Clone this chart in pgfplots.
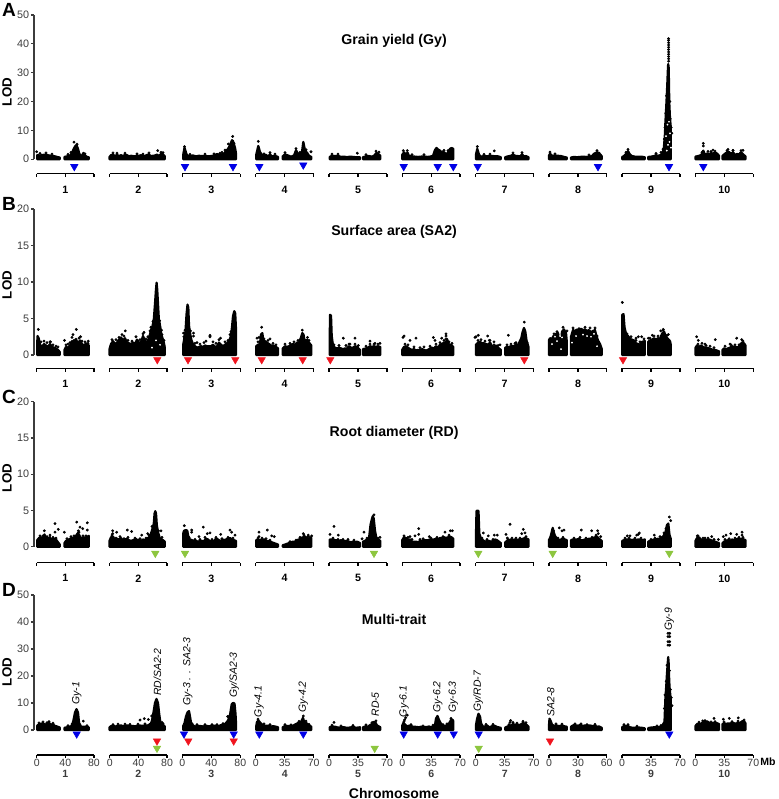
\documentclass[border=0pt]{standalone}
\usepackage{pgfplots}
\usepackage{fontspec}
\pgfplotsset{compat=1.18}
\setmainfont{Liberation Sans}
\definecolor{qblue}{RGB}{0,0,230}
\definecolor{qred}{RGB}{240,20,30}
\definecolor{qgreen}{RGB}{141,198,63}
\definecolor{axgray}{RGB}{60,60,60}
\newcommand{\fs}[1]{\fontsize{#1}{#1}\selectfont}
% x values are positions along the strip of ten equal-width chromosomes
\newcommand{\chunk}[1]{\addplot[mass] coordinates {#1} \closedcycle;}
\newcommand{\brackets}[1]{\addplot[black,line width=0.8pt,forget plot,unbounded coords=jump] coordinates {
 (36.7,#1)(94,#1)(94,nan)(109.7,#1)(167,#1)(167,nan)(182.3,#1)(240.3,#1)(240.3,nan)
 (255.7,#1)(313.7,#1)(313.7,nan)(329,#1)(387,#1)(387,nan)(402.3,#1)(460,#1)(460,nan)
 (475.7,#1)(533.7,#1)(533.7,nan)(549,#1)(606.7,#1)(606.7,nan)(622,#1)(680,#1)(680,nan)
 (695.3,#1)(753.3,#1)};}
\pgfplotsset{
 mass/.style={fill=black,draw=black,line width=1.7pt,line join=round,forget plot},
 dots/.style={only marks,mark=*,mark size=0.85pt,black,forget plot},
 specks/.style={only marks,mark=*,mark size=0.45pt,white,forget plot},
 tri/.style={only marks,mark=triangle*,mark size=3.2pt,#1,
   mark options={rotate=180,fill=#1,draw=#1},forget plot},
 panel/.style={
  scale only axis,width=544.5pt,xmin=34,xmax=760,ymin=0,clip=false,
  axis x line*=bottom,axis y line*=left,
  y axis line style={line width=1.1pt,color=axgray},
  x axis line style={draw=none},
  tick align=outside,major tick length=2.4pt,
  ytick style={line width=0.8pt,color=axgray},
  xtick style={line width=0.8pt,color=black},
  /pgf/number format/assume math mode=true,
  yticklabel style={font=\fs{8.1},text=axgray,inner sep=1pt},
  every axis title shift=0pt,
  title style={font=\bfseries\fs{10.6}},
  ylabel style={font=\bfseries\fs{10},anchor=center},
  xtick={36.7,65.3,94,109.7,138.4,167,182.3,211.3,240.3,255.7,284.7,313.7,329,358,387,402.3,431.2,460,475.7,504.7,533.7,549,578,606.7,622,651,680,695.3,724.3,753.3},
 },
 plainx/.style={
  xticklabels={,1,,,2,,,3,,,4,,,5,,,6,,,7,,,8,,,9,,,10,},
  xticklabel style={font=\bfseries\fs{8},yshift=-3pt},
 },
}
\begin{document}
\begin{tikzpicture}[x=0.75pt,y=0.75pt]
\path[use as bounding box] (0,0) rectangle (778,799);

% ---- A
\begin{axis}[panel,plainx,at={(25.5pt,479.8pt)},anchor=south west,height=108.2pt,ymax=50,ytick={0,10,...,50},
 axis x line shift=11pt,
 title={Grain yield (Gy)},title style={at={(axis description cs:0.496,0.82)},anchor=center},
 ylabel={LOD},ylabel style={at={(axis description cs:-0.0372,0.466)}}]
\chunk{(37.2,1.4)(40,1.3)(43,1.5)(46,1.6)(49,1.3)(52,1.2)(55,1)(58,.7)(59.8,.6)}
\chunk{(64.5,.8)(67,1)(70,1.3)(72,2.2)(73.5,3.4)(75,4.4)(76.5,4.9)(78,3.6)(79,2.2)(80.5,1.1)(82,1.3)(83.5,2.2)(85,1.3)(87,.8)(88.8,.7)}
\chunk{(109.5,.8)(111,1.4)(113,1.6)(115,1.1)(117,1.5)(119,1.1)(121,1.4)(123,1.1)(125,1.5)(127,1.4)(129,1)(131,1.2)(133,1.1)(135,1)(137,1.3)(139,1.2)(141,1.4)(143,1.2)(145,1.1)(147,1.5)(149,1.6)(151,1.1)(153,1.2)(155,1.3)(157,1.6)(159,1.1)(161,1.8)(163,1.7)(164.8,1)}
\chunk{(183.2,1.5)(184.5,4)(186,2.3)(187,1.3)(190,1.1)(193,1.3)(196,1)(199,1.2)(202,1.1)(205,1.2)(208,1)(211,1.1)(214,1.3)(217,1.8)(220,1.5)(224,2)(226,2.8)(228,3.6)(230,4.8)(232,6.6)(233,6.3)(235,4)(236,2)}
\chunk{(256.2,1.5)(258.3,4.6)(260,2.5)(262,1.5)(264,1.3)(266,1.5)(268,1)(270,1.7)(272,1)(275,1.2)(278,.8)}
\chunk{(282.7,1)(285,1.7)(288,1.3)(291,.9)(294,1.3)(296,3.1)(298,2)(300,1.8)(302,2.5)(303.3,6)(305,3)(307,2.3)(309,1.2)(311.3,.8)}
\chunk{(329.7,.8)(332,1.2)(335,1.1)(338,1.2)(341,.8)(344,.9)(347,.7)(350,.9)(353,.8)(356,.7)(360,.7)}
\chunk{(363,.7)(366,1)(369,1.1)(372,.9)(374,1.2)(376.5,2.2)(378,1.9)(380.3,1.2)}
\chunk{(402.2,1.5)(404,2.4)(406,1.6)(407.5,2.3)(409,1.1)(412,1)(415,.9)(418,.8)(421,.9)(424,1)(427,.8)(430,.9)(433,1.2)(435,3.2)(436.5,3.9)(438,3.4)(440,3)(442,2)(444,2.5)(446,1.6)(448,2.4)(450,3.6)(451.5,3.9)(453.3,3.6)}
\chunk{(475.9,1.5)(477.3,3.6)(479,1.6)(481,.9)(484,1.1)(487,1)(490,1.2)(493,1.1)(496,1)(498,1)(500.8,.7)}
\chunk{(505.2,.7)(508,1)(511,1.2)(513,1.6)(515,1.2)(518,1.1)(520,1)(522,1.7)(524,1)(526,1.1)(528.5,.7)}
\chunk{(548.9,1.2)(550,1.9)(552,1.2)(555,1.3)(558,1.2)(561,1.1)(564,.8)(566.8,.6)}
\chunk{(571,.6)(574,.8)(577,.7)(580,.8)(583,.9)(586,.8)(589,.9)(592,1.1)(594,1.9)(597,2.4)(599,2.2)(601.8,1)}
\chunk{(622.2,.8)(624,1.1)(626,1.8)(628,2.8)(630,1.6)(632,1.1)(635,.9)(638,.9)(641,.9)(644.8,.7)}
\chunk{(648.2,.8)(651,.9)(654,1.1)(656,1.4)(658,1.2)(661,1.5)(663,2.5)(663.9,4)(665,9)(665.3,12)(666.5,20)(667.3,26)(668,32)(668.2,33)(668.6,32)(669,26)(669.2,20)(670,14)(670.8,11)(670.8,2)}
\chunk{(695.5,.9)(698,1.1)(700,1.3)(702,1.8)(703.3,3)(705,1.4)(707,2)(709,1.8)(711,2.1)(713,2)(715,2.2)(717,2)(719,1.2)}
\chunk{(722.5,1.2)(725,1.9)(727,2.4)(729,2.5)(731,1.9)(733,2.4)(735,1.5)(737,1.8)(739,1.7)(741,2.4)(743,1.7)(745.5,1)}
\addplot[dots] coordinates {(36.7,2.6)(74,5.9)(157.7,3)(232.7,7.9)(225,3.2)(228.3,5.3)(258.3,6.2)(311,2.6)(357.3,2.1)(403.3,3)(407.3,3)(477.3,4.4)(494.3,2.9)(703.3,5.5)(703.3,4.6)(713,3.2)(708,2.7)(743,3.1)(728,3.4)(733,3.1)
 (668.6,34)(668.6,34.8)(668.6,35.6)(668.6,36.4)(668.6,37.2)(668.6,38)(668.6,38.8)(668.6,39.6)(668.6,40.4)(668.6,41.2)(668.6,41.8)
 (40,2)(46,2.2)(52,1.8)(68,1.7)(71,2.4)(77,5.2)(85,1.9)(113,2.2)(117,2.1)(125,2.1)(137,1.9)(149,2.2)(161,2.4)(163,2.3)(143,1.8)
 (184.5,4.4)(190,1.7)(205,1.8)(214,1.9)(220,2.1)(222,2.4)(231,5.6)(234,5.5)(264,1.9)(270,2.3)(275,1.8)(285,2.3)(296,3.7)(300,2.4)(306,3.3)
 (332,1.8)(338,1.8)(366,1.6)(376,2.8)(379,2.5)(412,1.6)(424,1.6)(442,2.6)(444,3.1)(448,3)(484,1.7)(490,1.8)(513,2.2)(522,2.3)
 (550,2.5)(555,1.9)(597,3)(589,1.5)(628,3.4)(626,2.4)(656,2)(663,3.5)(661,2.4)(702,2.4)(711,2.7)(715,2.8)(727,3)(733,3)(741,3)
 (664.3,7)(665,11)(671.8,9)(671.2,11)(665.7,16)(670.3,14)(666.5,22)(669.8,20)};
\addplot[specks] coordinates {(666,8)(668,5)(670,9)(667.5,12)(669,13)(669.5,6)(666.8,3)(671,4)};
\addplot[tri=qblue] coordinates {(74.3,-2.56)(185,-2.56)(233,-2.56)(259.3,-2.56)(437.7,-2.56)(403.7,-2.56)(453.3,-2.56)(477.7,-2.56)(598,-2.56)(669,-2.56)(703.3,-2.56)(303.3,-2)};
\brackets{-5.09}
\end{axis}

% ---- B
\begin{axis}[panel,plainx,at={(25.5pt,333pt)},anchor=south west,height=109.5pt,ymax=20,ytick={0,5,...,20},
 axis x line shift=10pt,
 title={Surface area (SA2)},title style={at={(axis description cs:0.496,0.842)},anchor=center},
 ylabel={LOD},ylabel style={at={(axis description cs:-0.0372,0.479)}}]
\chunk{(37.2,1.2)(37.5,2.6)(38.7,2.3)(40,1.4)(42,1.1)(44,1.5)(46,1.3)(48,1.1)(50,1.5)(52,1.1)(54,1)(56,.9)(58,.7)(59.8,.4)}
\chunk{(64.5,.7)(66,1.1)(68,1)(70,1.3)(72,1.9)(74,1.6)(76,2.2)(78,1.4)(80,2)(82,1.5)(84,1.3)(86,1.6)(88.8,1.3)}
\chunk{(109.5,.8)(111,1.5)(113,1.9)(115,1.5)(117,1.7)(119,2.1)(121,2.4)(123,2)(125,2.3)(127,1.7)(129,1.6)(131,1.5)(133,1.7)(135,1.5)(137,2.1)(139,1.7)(141,1.7)(143,2.6)(145,1.9)(147,1.8)(149,2.3)(151,3.4)(152.5,3.9)(153.9,5)(155,7)(156,9)(156.6,9.9)(157.2,9)(158,7)(158.8,5)(160.3,3.8)(161.5,2.7)(162.5,2.3)(164,1.6)(164.8,1)}
\chunk{(183.2,1.4)(184.5,2.4)(185.5,3.2)(186.5,5.5)(187.5,6.9)(188.3,6.5)(189,4)(190.3,2.8)(191.5,2)(193,1.5)(195,1.2)(197,1)(199,1.1)(201,1.2)(203,1.1)(205,1.3)(207,1.2)(209,1.2)(211,1.2)(213,1.4)(215,1.1)(217,1.2)(219,1.7)(221,1.4)(223,1.2)(225,1.4)(227,1.6)(229,1.9)(231,2.6)(232,3.8)(233,5.3)(234.3,6)(235.2,5.7)(236,3.5)(236,1)}
\chunk{(256.2,1.2)(258,1.4)(260,1.5)(261,2.8)(262.3,3)(263.5,1.9)(265,1.9)(267,1.7)(269,1.5)(271,1.3)(273,1.3)(275,1.2)(277,1)(278,.9)}
\chunk{(282.7,.9)(285,1.2)(287,1.1)(289,1.2)(291,1.4)(293,1.5)(295,1.4)(297,1.7)(299,1.7)(301,2.4)(302.3,3)(303.5,2.8)(305,1.6)(307,2.1)(309,1.7)(311.3,1.3)}
\chunk{(329.7,1.2)(330,5.5)(331,5.4)(331.7,2.6)(333,1.3)(335,1)(337,.9)(339,1)(341,.9)(343,.8)(345,.9)(347,.9)(349,1.2)(351,1)(353,1)(355,1.2)(357,1.1)(360,.7)}
\chunk{(363,.8)(366,.9)(368,1)(370,1.2)(372,1.1)(374,1.2)(376,1.1)(378,1.2)(380.3,1.1)}
\chunk{(402.2,.7)(404,1.1)(406,1.2)(408,1)(410,.8)(412,.7)(414,.8)(416,.6)(418,.7)(420,.6)(422,.8)(424,.7)(426,.6)(428,.7)(430,.9)(432,1)(434,.9)(436,1.2)(438,1)(440,1.4)(442,1.5)(444,1.7)(446,1.7)(447,2.2)(449,1.4)(451,1.4)(453.3,1.1)}
\chunk{(475.9,1.4)(478,1.7)(480,1.8)(482,1.6)(484,1.6)(486,1.5)(488,1.4)(490,1.7)(492,1.2)(494,1.1)(496,1.3)(498,1)(500.8,.7)}
\chunk{(505.2,1)(507,1.1)(509,1.1)(511,1.2)(513,1.2)(515,1.3)(516.5,1.5)(518,1.1)(519.5,1.8)(521.3,2.3)(522.5,3.1)(524,3.7)(525.3,3.2)(526.5,2)(528.5,1.1)}
\chunk{(548.9,2)(550,2.3)(552,2.2)(553.5,2.6)(555,2.3)(556,2.9)(558,3)(559.5,2)(561,1.9)(562,3.2)(564,3.5)(566,3)(566.8,1.8)}
\chunk{(571,2.5)(573,3.4)(575,3.3)(577,3.5)(579,3.3)(581,3.6)(583,3.4)(585,3.5)(587,3.3)(589,3.4)(591,3.1)(593,3.3)(595,3.4)(596,2.8)(598,2)(600,1.5)(601.8,.8)}
\chunk{(622.2,5.5)(623.5,5.6)(624.5,3.8)(626,2.9)(628,2.6)(630,2.2)(632,2.1)(634,2)(636,1.6)(638,1.5)(640,1.4)(642,1.8)(644.8,1.9)}
\chunk{(648.2,1.8)(650,2)(652,2.1)(654,2.3)(656,2.1)(658,2.3)(660,2.2)(662,2.9)(664,3.2)(666,2.5)(668,2.2)(670,1.9)(670.8,1.4)}
\chunk{(695.5,1)(697,1.3)(699,1.1)(701,1.3)(703,1.1)(705,1)(707,1)(709,.9)(711,.8)(713,.7)(715,.7)(717,.6)(719,.5)}
\chunk{(722.5,.7)(724,.9)(726,.8)(728,.9)(730,1)(732,1.2)(734,1.1)(736,1.1)(738,1)(740,1.4)(742,1.7)(744,1.6)(745.5,1.3)}
\addplot[dots] coordinates {(38.3,3.5)(50.5,1.8)(58,1.1)(64.5,2)(68,1.5)(73,2.8)(76.3,3.5)(80.5,2.5)(79,2.3)(88.3,1.9)(72,2.4)
 (125.3,3.3)(122,2.8)(144,3.1)(151,3.8)(210,2.5)(210,2.7)(193.5,3)(193.5,2.6)(230,2.8)(206,1.9)(197,1.7)(220.5,2.3)(183.5,3)
 (261.7,3.8)(257,2.3)(259,2.4)(270,2.2)(302.3,3.4)(307.5,2.4)(343.3,2.3)(355,2.3)(350,1.5)(358.3,1.3)(370,1.9)(375,1.6)(380,1.6)
 (404,2.6)(403,2.4)(410,2)(416,2.3)(433.3,2.4)(435,2)(446,2.9)(446,2.6)(446,2.2)(441.7,2.3)
 (475,2.4)(478.3,2.7)(476,2.5)(487.7,2.6)(494,1.8)(489.3,2)(500,1.4)(524.3,4.5)(508.3,2.7)(516,1.7)
 (597,2.6)(600,1.2)(622.3,7.2)(638.3,2.5)(641.7,2.5)(636,2.3)(652.3,2.7)(660.7,3.3)(663.3,3.5)(668.3,2.8)(648.3,2.3)
 (696.7,2.5)(698.3,2)(715.3,2.1)(705,1.5)(736.7,2.3)(741.7,2.1)(730,1.5)
 (41,1.8)(44,1.9)(47,1.7)(50,1.8)(53,1.4)(56,1.2)(66,1.4)(70,1.7)(74,2)(78,1.8)(82,1.9)(85,1.8)(88,1.6)
 (112,2.1)(116,2.1)(119,2.4)(124,2.6)(128,2)(132,1.9)(136,2.5)(140,2.1)(143,2.9)(146,2.2)(148,2.5)(162,2.8)(164,2)(150,3.3)(161.5,3.4)(153,4.6)(159.6,4.7)
 (183.8,2.5)(185,3.4)(190.5,3.3)(195,1.6)(200,1.5)(204,1.7)(213,1.8)(216,1.6)(219,2.1)(225,1.8)(228,2)(231,3.2)
 (258,1.8)(264,2.2)(268,2)(273,1.6)(276,1.4)(285,1.5)(290,1.6)(294,1.8)(298,2)(305,2)(309,2)
 (334,1.4)(339,1.3)(346,1.3)(349,1.5)(355,1.5)(366,1.2)(370,1.5)(374,1.5)(378,1.5)
 (405,1.5)(408,1.4)(414,1.1)(420,1)(424,1.1)(430,1.2)(436,1.5)(440,1.7)(444,2)(449,1.8)(452,1.6)
 (478,2)(481,2.1)(485,1.9)(490,2)(494,1.4)(498,1.3)(507,1.4)(511,1.5)(515,1.6)(527,1.7)
 (554,2.9)(557,3.2)(563,3.8)(567,3.3)(573,3.7)(579,3.6)(585,3.8)(590,3.7)(595,3.7)
 (627,2.9)(631,2.5)(636,2)(640,1.8)(644,2.2)(650,2.3)(654,2.6)(658,2.6)(663,3.4)(667,2.7)
 (698,1.5)(702,1.6)(706,1.3)(710,1.2)(714,1)(725,1.2)(731,1.4)(735,1.4)(739,1.4)(743,1.9)};
\addplot[specks] coordinates {(552,1.5)(560,2.6)(562,2.4)(576,2.6)(583,2.8)(591,2.5)(594,2.9)(557,1.9)(561,.8)(597,1.2)(555,2.5)(587,2.6)(572,1.7)(156,2)(152,1)(160,1.4)};
\addplot[tri=qred] coordinates {(157.3,-.64)(188,-.64)(235.3,-.64)(261.7,-.64)(302.7,-.64)(330.3,-.64)(524.3,-.64)(623,-.64)};
\brackets{-1.82}
\end{axis}

% ---- C
\begin{axis}[panel,plainx,at={(25.5pt,189.2pt)},anchor=south west,height=108.75pt,ymax=20,ytick={0,5,...,20},
 axis x line shift=12pt,
 title={Root diameter (RD)},title style={at={(axis description cs:0.496,0.784)},anchor=center},
 ylabel={LOD},ylabel style={at={(axis description cs:-0.0372,0.474)}}]
\chunk{(37.2,.9)(39,1.2)(41,1.3)(43,1.2)(44.5,1.7)(46,1.1)(48,1.2)(50,1.1)(52,1)(54,1.1)(56,1)(58,.6)(59.8,.3)}
\chunk{(64.5,.5)(66,.8)(68,.9)(70,1.1)(72,1.2)(74,1.2)(76,1.5)(78,1.9)(80,1.4)(82,1.1)(84,1.3)(86,1.2)(88.8,1.5)}
\chunk{(109.5,.8)(111,1.3)(113,1.4)(115,.9)(117,1.1)(119,1)(121,1.2)(123,.8)(125,1)(127,1.1)(129,.9)(131,.8)(133,.9)(135,1)(137,.9)(139,.9)(141,.8)(143,1)(145,.9)(147,1.1)(149,1.3)(151,1.8)(152.5,2.5)(153.8,3.2)(154.6,4.6)(155.3,4.9)(156,4.6)(156.8,3)(158,2)(160,1.1)(162,1)(164.8,.7)}
\chunk{(183.2,1.8)(184,2.2)(186,2.3)(187.3,2.2)(188.3,1.4)(190,1)(192,.9)(194,.8)(196,.8)(198,.7)(200,.8)(202,.8)(204,.8)(206,1.1)(208,1)(210,.7)(212,.8)(214,.8)(216,1.1)(218,1)(220,.8)(222,.9)(224,.9)(226,1)(228,1.1)(230,1.2)(232,1)(234,.9)(236,.8)}
\chunk{(256.2,.9)(258,1)(260,.9)(262,1)(264,1)(266,.8)(268,.8)(270,.7)(272,.6)(274,.5)(276,.4)(278,.3)}
\chunk{(282.7,.2)(285,.3)(287,.4)(289,.5)(291,.6)(293,.7)(295,.7)(297,.9)(299,1)(301,1.2)(303,1.3)(305,1.4)(307,1.2)(309,1.1)(311.3,1.2)}
\chunk{(329.7,1)(331,1)(333,1)(335,.9)(337,.9)(339,.8)(341,.9)(343,.8)(345,.8)(347,.8)(349,.7)(351,.6)(353,.7)(355,.6)(357,.7)(360,.5)}
\chunk{(363,.7)(365,.8)(367,1)(369,1.1)(370.5,3)(371.7,3.7)(372.7,4.2)(373.7,3.9)(375,2.2)(376.5,1.1)(378,1)(380.3,.8)}
\chunk{(402.2,.9)(404,1.3)(406,1.2)(408,1)(410,1)(412,.7)(414,.7)(416,.7)(418,.6)(420,.8)(422,.8)(424,.9)(426,.9)(428,.9)(430,1)(432,1)(434,1)(436,1.1)(438,1)(440,1.2)(442,1.2)(444,1.3)(446,1.2)(448,1.3)(450,1.4)(451.5,1.3)(453.3,1.1)}
\chunk{(475.9,1)(476.5,4.9)(477.5,5)(478.5,4.9)(479.3,1.8)(481,1.1)(483,.9)(485,.7)(487,.8)(489,.8)(491,.7)(493,.8)(495,1)(497,.9)(500.8,.5)}
\chunk{(505.2,.6)(507,.8)(509,.9)(511,1)(513,.9)(515,1)(517,.9)(519,1)(521,1)(523,1.1)(525,1.2)(527,1.1)(528.5,1)}
\chunk{(548.9,.9)(550,1.2)(551,1.6)(552.7,2.6)(554,1.9)(555,1.5)(557,1.1)(559,.9)(561,1)(563,1.1)(566.8,.9)}
\chunk{(571,.9)(573,1)(575,1)(577,1)(579,1.1)(581,.9)(583,.9)(585,1)(587,1)(589,1.1)(591,1.1)(593,1.2)(595,1.3)(597,1.4)(599,1.1)(601.8,.8)}
\chunk{(622.2,.8)(624,.9)(626,1)(628,1)(630,1)(632,.9)(634,1)(636,.9)(638,1)(640,1)(642,.9)(644.8,1)}
\chunk{(648.2,.7)(650,.8)(652,.9)(654,1)(656,1)(658,1.1)(660,1)(662,1.2)(664,1.6)(665.5,2)(667,3)(668.3,3.2)(669.5,1.6)(670.8,1.1)}
\chunk{(695.5,.8)(697,1.2)(699,1.3)(701,1)(703,.9)(705,1)(707,.9)(709,1)(711,.9)(713,.8)(715,.7)(717,.6)(719,.5)}
\chunk{(722.5,.5)(724,.7)(726,.8)(728,.9)(730,.8)(732,1)(734,.9)(736,1)(738,1.1)(740,1)(742,1.1)(744,1)(745.5,.9)}
\addplot[dots] coordinates {(55,3.2)(58.3,2.4)(44.3,2.2)(55,2)(50,1.6)(76.7,3.4)(87.3,3.3)(80,2.7)(82.7,2.5)(64.3,2)(87.3,2.3)(78.3,2.2)
 (112.7,2.2)(112.7,1.8)(127.3,2.3)(116.7,2)(131.7,2.1)(136.7,1)(141.7,1.6)(147.7,1.8)(161,2.2)
 (184.3,2.9)(191.7,2.3)(191.7,2)(203.3,2.7)(210,1.9)(207.3,1.8)(220.7,1.7)(230,2.3)(231.7,2)(235,1.6)(199,1.4)
 (259,2)(267.3,2.3)(259,1.4)(271.7,1.5)(274.3,1.4)(303.3,1.8)(308.3,1.6)(311.7,1.5)
 (334,2.8)(330,1.7)(338.3,1.6)(374,4.4)(364,2)(362,1.1)(380,1.3)
 (418.7,2.5)(418.7,1.7)(420,1)(415,1.5)(450.3,2.2)(452.3,2.2)(445,2)(429.3,1.4)(410,1.4)
 (483.3,1.9)(488.3,1.5)(494.3,1.6)(497.3,1.6)(510,3.1)(506,1.7)(523.3,2.4)(525,1.9)(521.7,1.8)(507.3,1.2)
 (559.3,2.6)(564,2.3)(562,2.2)(581.3,2.3)(591.7,2.2)(597.7,2.2)(598.3,1.8)(600.7,1.4)
 (627.3,1.5)(630,1.5)(636.7,1.6)(639.3,1.9)(638.3,1.7)(669.3,4.1)(670.7,3.6)(666,2.5)(654.3,1.6)(660,1.4)
 (697.3,1.5)(705,1.2)(711.7,1.4)(718.3,1)(723.3,1.4)(726,1.6)(730.7,1.8)(736.7,1.7)(742,2)(742,1.6)
 (40,1.5)(43,1.5)(47,1.4)(50,1.3)(53,1.3)(56,1.2)(67,1.1)(71,1.4)(74,1.5)(79,2)(83,1.5)(86,1.5)
 (112,1.6)(116,1.2)(120,1.4)(124,1.1)(128,1.3)(135,1.2)(140,1.1)(146,1.2)(149,1.6)(152,2.8)(158.5,2.2)(162,1.3)
 (189,1.3)(195,1)(200,1)(205,1.3)(212,1)(216,1.3)(222,1.1)(228,1.3)(233,1.2)
 (258,1.2)(262,1.2)(266,1.1)(270,.9)(290,.7)(296,.9)(300,1.3)(304,1.6)(308,1.4)(310,1.3)
 (333,1.2)(338,1)(343,1)(348,1)(354,.9)(367,1.2)(378,1.2)
 (404,1.5)(408,1.3)(412,1)(423,1.1)(431,1.2)(437,1.3)(443,1.4)(449,1.6)
 (482,1.2)(487,1)(493,1)(508,1)(512,1.2)(516,1.2)(520,1.2)(526,1.4)
 (553.5,2.2)(558,1.2)(563,1.3)(574,1.2)(580,1.3)(586,1.2)(592,1.3)(596,1.6)
 (625,1.2)(629,1.2)(635,1.2)(641,1.2)(651,1)(655,1.2)(661,1.3)(664,1.9)
 (698,1.5)(703,1.2)(708,1.2)(714,1)(725,1)(729,1.1)(735,1.2)(739,1.3)(743,1.3)};
\addplot[tri=qgreen] coordinates {(155.3,-.91)(185,-.91)(374,-.91)(478.3,-.91)(552.7,-.91)(669.3,-.91)};
\brackets{-2.2}
\end{axis}

% ---- D
\begin{axis}[panel,at={(25.5pt,51.75pt)},anchor=south west,height=101.25pt,ymax=50,ytick={0,10,...,50},
 axis x line shift=18.75pt,
 xticklabels={0,{40\\\textbf{1}},80,0,{40\\\textbf{2}},80,0,{40\\\textbf{3}},80,0,{35\\\textbf{4}},70,0,{35\\\textbf{5}},70,0,{35\\\textbf{6}},70,0,{35\\\textbf{7}},70,0,{30\\\textbf{8}},60,0,{35\\\textbf{9}},70,0,{35\\\textbf{10}},70},
 xticklabel style={font=\fs{7.9},align=center,text=axgray,inner sep=0.5pt,anchor=north},
 title={Multi-trait},title style={at={(axis description cs:0.496,0.822)},anchor=center},
 ylabel={LOD},ylabel style={at={(axis description cs:-0.0372,0.43)}},
 xlabel={Chromosome},xlabel style={at={(axis description cs:0.496,-0.467)},anchor=center,font=\bfseries\fs{10.5}}]
\chunk{(37.2,1.6)(39,2.1)(41,2.3)(43,2.5)(45,2)(47,2.2)(49,2.6)(51,2)(53,2)(55,1.5)(57,1.3)(59.8,.9)}
\chunk{(64.5,.8)(67,1)(70,1.2)(72,1.6)(73.5,3.6)(75,6.5)(76.5,7.7)(78,6.5)(79,2.8)(80.5,1.3)(83,1.2)(85,1.2)(88.8,1)}
\chunk{(109.5,1)(111,1.4)(113,1.5)(115,1.3)(117,1.4)(119,1.6)(121,1.7)(123,1.4)(125,1.6)(127,1.7)(129,1.6)(131,1.3)(133,1.5)(135,1.3)(137,1.6)(139,1.7)(141,1.6)(143,1.5)(145,1.8)(147,1.6)(149,1.9)(151,2.5)(152,3.5)(153.5,6.5)(155,10)(156.5,11.5)(158,10)(159,6.5)(160.3,3)(161.5,2.2)(163,2)(164.8,1.3)}
\chunk{(183.2,1.5)(184.5,2.5)(186,5)(187.5,6.5)(189,7)(190,5)(191,2.8)(193,1.7)(195,1.3)(197,1.4)(200,1.5)(203,1.3)(206,1.5)(209,1.4)(212,1.5)(215,1.6)(218,1.3)(221,1.8)(224,1.9)(226,2.6)(228,3.5)(230,5.5)(231.7,9.5)(233,10)(234.5,9.8)(235.5,6)(236,2.5)}
\chunk{(256.2,1.3)(257,3)(258.5,3.5)(260,2.8)(261.5,2.2)(263,1.8)(265,1.6)(267,1.6)(269,1.6)(271,1.3)(273,1.4)(275,1.3)(278,1)}
\chunk{(282.7,1)(285,1.5)(287,1.5)(289,1.5)(291,1.4)(293,1.6)(295,2)(297,2.4)(299,2.7)(301,3)(303,4.5)(304.3,2.8)(306,2.7)(308,2)(310,1.5)(311.3,1.2)}
\chunk{(329.7,1)(332,1.3)(335,1.2)(338,.9)(341,1)(344,1)(347,.8)(350,.9)(353,1.2)(356,.8)(360,1)}
\chunk{(363,1)(366,1.4)(368,1.2)(370,1.8)(372,2.2)(373.5,3)(375.5,2.7)(377,1.7)(380.3,1)}
\chunk{(402.2,1.6)(403.5,2.7)(405,2)(407,1.3)(409,1.6)(411,1.5)(413,1.2)(415,1.2)(417,1.1)(419,1)(421,1.2)(423,1)(425,1.1)(427,1.1)(429,1.3)(431,1)(433,1.3)(435,1.8)(436,4.2)(437.5,5.2)(439,3.7)(440.5,2.6)(443,1.5)(445,1.5)(447,1.8)(449,2.4)(451,3.7)(452.5,3.8)(453.3,3.2)}
\chunk{(475.9,1.6)(477,4)(478.5,6)(480,5)(481,2.5)(483,1.2)(485,1.3)(487,1.7)(489,1.1)(491,1.2)(493,1.6)(495,1.5)(497,1.1)(500.8,.8)}
\chunk{(505.2,.9)(507,1.2)(509,1.5)(511,1.7)(513,2.2)(515,1.9)(517,2)(519,1.7)(521,2.1)(523,2.6)(525,2.3)(527,1.8)(528.5,1.2)}
\chunk{(548.9,1.2)(549.5,4.2)(550.5,3.5)(552,2)(554,1.5)(556,1.8)(558,1.5)(560,1.5)(562,1.7)(564,1.4)(566.8,1.2)}
\chunk{(571,1.2)(573,1.7)(575,1.8)(577,1.6)(579,1.7)(581,1.8)(583,1.5)(585,1.7)(587,1.5)(589,1.7)(591,1.6)(593,1.4)(595,1.6)(597,1.2)(599,1.3)(601.8,.8)}
\chunk{(622.2,1)(624,1.5)(626,1.4)(628,1.5)(630,1)(633,.8)(636,.9)(639,.9)(642,.8)(644.8,.6)}
\chunk{(648.2,.7)(651,.9)(654,1)(657,1)(660,1.1)(662,1.5)(663,2)(664.5,3)(665,8)(665.3,11)(666.2,16)(667,21)(667.8,25)(668.2,27)(668.6,25)(668.9,21)(669.5,16)(670.8,11)(670.8,2)}
\chunk{(695.5,1.5)(697,2.2)(699,2.4)(701,2.2)(703,3)(705,3)(707,3.2)(709,2.7)(711,2.5)(713,2.6)(715,2.6)(717,2.5)(719,2.2)}
\chunk{(722.5,2.2)(724,2.5)(726,2.3)(728,2.4)(730,2.4)(732,2.6)(734,2.5)(736,2.3)(738,2.8)(740,2.5)(742,3.2)(744,3.2)(745.5,2.5)}
\addplot[dots] coordinates {(83.3,3.3)(140,3.7)(144.3,4.2)(148.3,3.9)(151.7,5.2)(227.7,5)(303.3,5.2)(334,2.8)
 (407.3,5.5)(405.7,4.6)(404.7,3.8)(510.7,3.5)(510,2.8)
 (668,35.8)(669.7,35.8)(668,34.6)(669.7,34.6)(668,32.7)(669.7,32.7)(668,31.4)(669.7,31.4)
 (714,4.3)(723.3,4)(729.3,4.3)(738.3,4.5)(702.7,3.4)
 (39,2.6)(43,3)(47,2.7)(49,3.1)(53,2.5)(68,1.6)(72,2.2)(80,1.9)(87,1.6)(113,2)(118,2.2)(125,2.2)(130,2.1)(138,2.2)(145,2.3)(162,2.8)(163,2.4)
 (192,2.3)(197,2)(205,2)(212,2)(217,2)(223,2.4)(229,5)(258,4)(264,2.3)(270,2)(285,2)(291,1.9)(299,3.2)(306,3.3)(309,2.1)
 (332,1.8)(341,1.5)(353,1.7)(366,1.9)(372,2.7)(376,3.4)(404,3.2)(411,2)(423,1.5)(433,1.8)(447,2.3)(443,2)(451,4.3)
 (486,2.1)(493,2.1)(509,2)(513,2.8)(517,2.5)(523,3.2)(526,2.7)(556,2.3)(562,2.2)(575,2.3)(581,2.3)(587,2)(595,2.1)
 (624,2)(628,2)(637,1.4)(657,1.5)(661,1.7)(664,2.5)(699,2.9)(705,3.5)(711,3)(715,3.1)(724,3)(732,3.1)(738,3.3)(744,3.7)
 (664.4,8)(665,13)(672,9)(671.3,12)(666.2,18)(670.4,15)(667,24)(669.5,22)};
\addplot[tri=qgreen] coordinates {(157,-6.78)(374.7,-6.78)(478.7,-6.78)};
\addplot[tri=qred] coordinates {(157,-4.07)(188.3,-4.07)(233.7,-4.07)(550,-4.07)};
\addplot[tri=qblue] coordinates {(76.7,-1.48)(184,-1.48)(233.7,-1.48)(259.3,-1.48)(303.3,-1.48)(403.7,-1.48)(437.7,-1.48)(453.7,-1.48)(478.7,-1.48)(669.3,-1.48)};
\brackets{-9.26}
\begin{scope}[every node/.style={rotate=90,anchor=west,inner sep=0pt,font=\itshape\fs{7.8}}]
\node at (axis cs:76.7,9.3) {Gy-1};
\node at (axis cs:157.3,12.6) {RD/SA2-2};
\node at (axis cs:187.7,8.9) {Gy-3 . . SA2-3};
\node at (axis cs:234.3,12) {Gy/SA2-3};
\node at (axis cs:259,4.7) {Gy-4.1};
\node at (axis cs:303.3,6.4) {Gy-4.2};
\node at (axis cs:375.3,4.9) {RD-5};
\node at (axis cs:404,4.7) {Gy-6.1};
\node at (axis cs:437.7,6.4) {Gy-6.2};
\node at (axis cs:453.3,6.4) {Gy-6.3};
\node at (axis cs:478.3,6.8) {Gy/RD-7};
\node at (axis cs:550.7,4.9) {SA2-8};
\node at (axis cs:669.3,36.8) {Gy-9};
\end{scope}
\end{axis}

\node[font=\bfseries\fs{14.3},inner sep=0pt] at (9,789) {A};
\node[font=\bfseries\fs{14.3},inner sep=0pt] at (9,595) {B};
\node[font=\bfseries\fs{14.3},inner sep=0pt] at (9,402) {C};
\node[font=\bfseries\fs{14.3},inner sep=0pt] at (9,209) {D};
\node[font=\bfseries\fs{7.9},inner sep=0pt] at (768,37) {Mb};
\end{tikzpicture}
\end{document}
